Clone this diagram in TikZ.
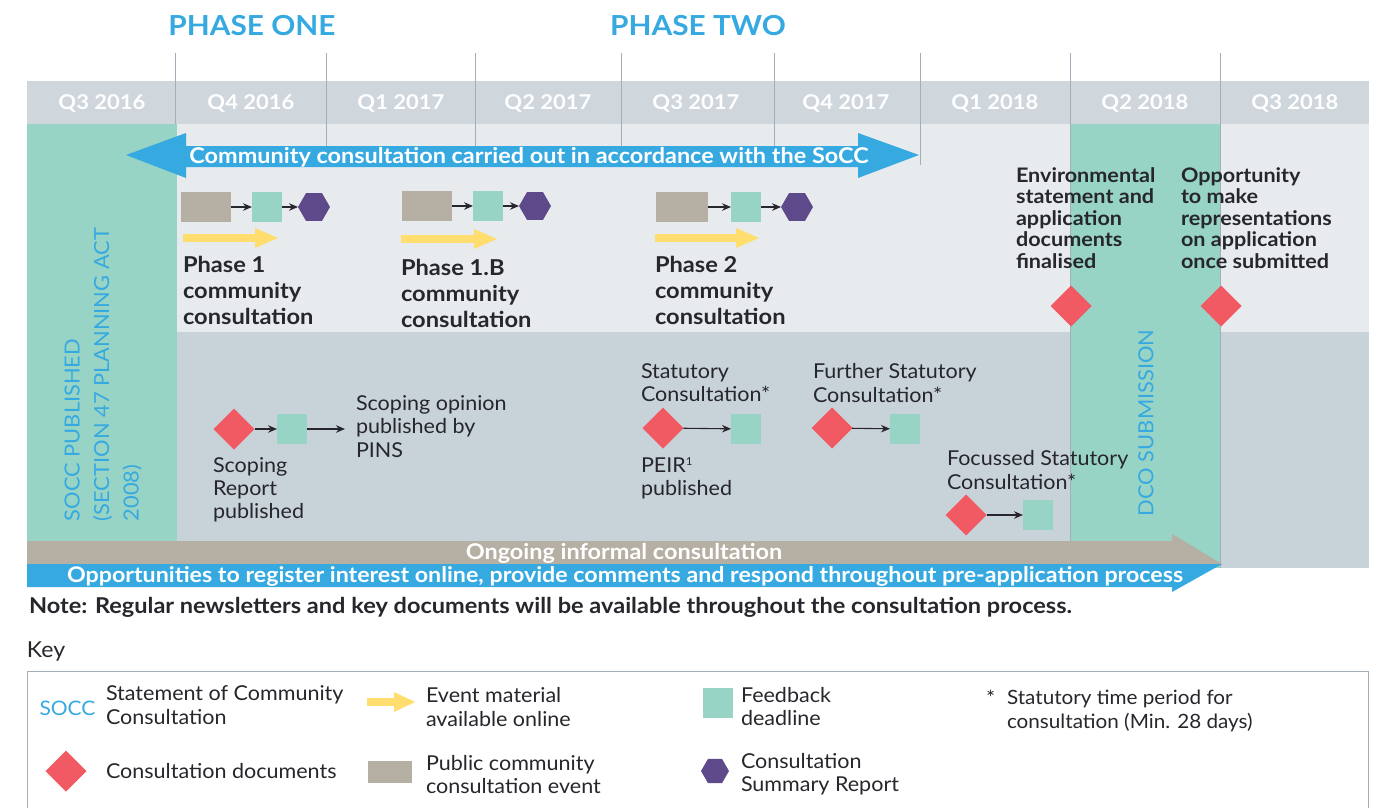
\documentclass[tikz,border=0pt]{standalone}
\usepackage{fontspec}
\setmainfont{Lato}[FakeStretch=1.05,BoldFeatures={FakeStretch=1.08}]
\usetikzlibrary{shapes.geometric,arrows.meta}
\definecolor{band}{HTML}{CFD6DC}
\definecolor{lightbg}{HTML}{E8EBEE}
\definecolor{darkbg}{HTML}{C8D3D9}
\definecolor{teal}{HTML}{97D4C6}
\definecolor{tan}{HTML}{B6AFA3}
\definecolor{sky}{HTML}{36A9E1}
\definecolor{coral}{HTML}{F25A63}
\definecolor{hexp}{HTML}{5E4A8A}
\definecolor{yel}{HTML}{FFDD6E}
\definecolor{vline}{HTML}{A3AFB8}
\definecolor{ink}{HTML}{26262C}
\tikzset{
  x=1pt,y=-1pt,
  every node/.style={inner sep=0pt,outer sep=0pt},
  teal box/.style={fill=teal,minimum width=30pt,minimum height=30pt},
  tan box/.style={fill=tan,minimum width=50pt,minimum height=30pt},
  hexa/.style={regular polygon,regular polygon sides=6,fill=hexp,minimum size=32pt},
  dia/.style={diamond,aspect=1,fill=coral,minimum size=41pt},
  conn/.style={draw=ink,line width=1.1pt,-{Stealth[length=9pt,width=7.5pt]}},
  qlabel/.style={text=white,font=\fontsize{20.4}{24}\selectfont\bfseries},
  phase/.style={text=sky,font=\fontsize{27.6}{32}\selectfont\bfseries},
  bhead/.style={anchor=west,align=left,text=ink,font=\fontsize{21.9}{26}\selectfont\bfseries},
  btext/.style={anchor=west,align=left,text=ink,font=\fontsize{20}{21.6}\selectfont\bfseries},
  ltext/.style={anchor=west,align=left,text=ink,font=\fontsize{20.5}{23.2}\selectfont},
  vtext/.style={rotate=90,anchor=west,align=left,text=sky,font=\fontsize{20.8}{29.5}\selectfont},
  wtext/.style={text=white,font=\fontsize{21.7}{24}\selectfont\bfseries},
  yarrow/.style={draw=yel,line width=8pt,-{Triangle[length=24pt,width=18pt]}},
  divider/.style={draw=vline,line width=.9pt},
}
\begin{document}
\begin{tikzpicture}
\useasboundingbox (0,0) rectangle (1373,807);
% backgrounds
\fill[band] (27,81) rectangle (1369,124);
\fill[lightbg] (177,124) rectangle (1369,332);
\fill[darkbg] (177,332) rectangle (1369,568);
\fill[teal] (27,124) rectangle (177,541);
\fill[teal] (1070,124) rectangle (1221,568);
% dividers
\foreach \xx/\yy in {175/124,326/147,475/147,621/147,774/147,920/165,1070/568,1220/568}
  \draw[divider] (\xx,53) -- (\xx,\yy);
% headings
\node[phase] (p1) at (252,26) {PHASE ONE};
\node[phase] (p2) at (698,26) {PHASE TWO};
\foreach \xx/\tt [count=\i] in {102/Q3 2016,251/Q4 2016,401/Q1 2017,548/Q2 2017,696/Q3 2017,846/Q4 2017,995/Q1 2018,1145/Q2 2018,1295/Q3 2018}
  \node[qlabel] (q\i) at (\xx,103) {\tt};
% big blue arrow
\fill[sky] (126,155) -- (186,133) -- (186,146) -- (858,146) -- (858,133) -- (919,155) -- (858,178) -- (858,167) -- (186,167) -- (186,178) -- cycle;
\node[wtext] (socc) at (529,157) {Community consultation carried out in accordance with the SoCC};
% phase 1
\node[tan box] (a1) at (206,207) {};
\node[teal box] (a2) at (267,207) {};
\node[hexa] (a3) at (314,207) {};
\draw[conn] (a1) -- (a2);
\draw[conn] (a2) -- (a3);
\coordinate (ya1) at (183,238); \coordinate (ya2) at (279,238);
\draw[yarrow] (ya1) -- (ya2);
\node[bhead] (t1) at (183,290) {Phase 1\\community\\consultation};
% phase 1b
\node[tan box] (b1) at (427,206) {};
\node[teal box] (b2) at (488,206) {};
\node[hexa] (b3) at (535,206) {};
\draw[conn] (b1) -- (b2);
\draw[conn] (b2) -- (b3);
\coordinate (yb1) at (401,239); \coordinate (yb2) at (498,239);
\draw[yarrow] (yb1) -- (yb2);
\node[bhead] (t2) at (401,293) {Phase 1.B\\community\\consultation};
% phase 2
\node[tan box,minimum width=52pt] (c1) at (682,207) {};
\node[teal box] (c2) at (746,207) {};
\node[hexa] (c3) at (797,207) {};
\draw[conn] (c1) -- (c2);
\draw[conn] (c2) -- (c3);
\coordinate (yc1) at (655,238); \coordinate (yc2) at (760,238);
\draw[yarrow] (yc1) -- (yc2);
\node[bhead] (t3) at (655,290) {Phase 2\\community\\consultation};
% right side
\node[btext] (e1) at (1016,218) {Environmental\\statement and\\application\\documents\\finalised};
\node[btext] (e2) at (1181,218) {Opportunity\\to make\\representations\\on application\\once submitted};
\node[dia] (d1) at (1071,306) {};
\node[dia] (d2) at (1221,306) {};
% lower band
\node[dia] (s1) at (234,429) {};
\node[teal box] (s2) at (292,429) {};
\coordinate (s3) at (345,429);
\draw[conn] (s1) -- (s2);
\draw[conn] (s2) -- (s3);
\node[ltext] (s4) at (356,426.5) {Scoping opinion\\published by\\PINS};
\node[ltext] (s5) at (213,490) {Scoping\\Report\\published};
\node[ltext] (u0) at (641,383) {Statutory\\Consultation*};
\node[dia] (u1) at (663,428) {};
\node[teal box] (u2) at (746,429) {};
\draw[conn] (u1) -- (u2);
\node[ltext] (u3) at (641,478) {PEIR\raisebox{7pt}{\fontsize{11}{12}\selectfont 1}\\published};
\node[ltext] (v0) at (813,383) {Further Statutory\\Consultation*};
\node[dia] (v1) at (832,428) {};
\node[teal box] (v2) at (905,429) {};
\draw[conn] (v1) -- (v2);
\node[ltext] (w0) at (947,470) {Focussed Statutory\\Consultation*};
\node[dia] (w1) at (966,515) {};
\node[teal box] (w2) at (1038,515) {};
\draw[conn] (w1) -- (w2);
% rotated labels
\node[vtext,anchor=west] (r1) at (103,521) {SOCC PUBLISHED\\(SECTION 47 PLANNING ACT\\2008)};
\node[vtext] (r2) at (1146,516) {DCO SUBMISSION};
% bottom arrows
\fill[tan] (27,541) -- (1172,541) -- (1172,534) -- (1222,564) -- (27,564) -- cycle;
\fill[sky] (27,564) -- (1222,564) -- (1172,592) -- (1172,587) -- (27,587) -- cycle;
\node[wtext] (o1) at (624,553.5) {Ongoing informal consultation};
\node[wtext,font=\fontsize{21.5}{24}\selectfont\bfseries] (o2) at (625,576.5) {Opportunities to register interest online, provide comments and respond throughout pre-application process};
\node[anchor=west,text=ink,font=\fontsize{21.8}{24}\selectfont\bfseries] (note) at (29,607) {Note: Regular newsletters and key documents will be available throughout the consultation process.};
% key
\node[anchor=west,text=ink,font=\fontsize{22}{24}\selectfont] (key) at (27,651) {Key};
\draw[draw=vline,line width=1pt] (27,820) -- (27,671.5) -- (1368.5,671.5) -- (1368.5,820);
\node[text=sky,font=\fontsize{20}{24}\selectfont] (k1) at (67.5,708) {SOCC};
\node[ltext] (k2) at (106,705) {Statement of Community\\Consultation};
\coordinate (k3a) at (367,702); \coordinate (k3b) at (416,702);
\draw[yarrow,-{Triangle[length=22pt,width=18pt]}] (k3a) -- (k3b);
\node[ltext] (k4) at (426,707) {Event material\\available online};
\node[teal box] (k5) at (717.5,702.5) {};
\node[ltext] (k6) at (741,706.5) {Feedback\\deadline};
\node[ltext] (k7s) at (986,698) {*};
\node[ltext,font=\fontsize{19.7}{23.2}\selectfont] (k7) at (1007,711) {Statutory time period for\\consultation (Min. 28 days)};
\node[dia] (k8) at (66,771) {};
\node[ltext] (k9) at (106,771.5) {Consultation documents};
\node[fill=tan,minimum width=44pt,minimum height=22pt] (k10) at (390,772) {};
\node[ltext] (k11) at (426,774.5) {Public community\\consultation event};
\node[hexa,minimum size=28pt] (k12) at (715,771) {};
\node[ltext] (k13) at (741,774) {Consultation\\Summary Report};
\end{tikzpicture}
\end{document}
